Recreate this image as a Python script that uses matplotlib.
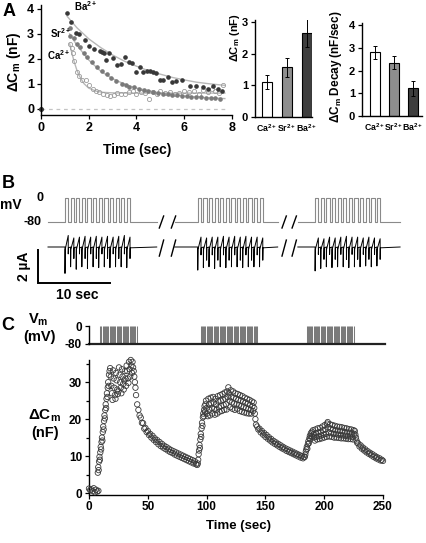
import numpy as np
import matplotlib
matplotlib.use("Agg")
import matplotlib.pyplot as plt

plt.rcParams['font.family'] = ['Liberation Sans', 'DejaVu Sans']
plt.rcParams['font.weight'] = 'bold'
plt.rcParams['mathtext.fontset'] = 'custom'
plt.rcParams['mathtext.rm'] = 'Liberation Sans:bold'
plt.rcParams['mathtext.it'] = 'Liberation Sans:bold'
plt.rcParams['mathtext.bf'] = 'Liberation Sans:bold'

# ---------------- Panel A data ----------------
ba_t = [1.1, 1.26, 1.45, 1.6, 1.86, 2.0, 2.2, 2.47, 2.54, 2.65, 2.72, 2.86, 3.0, 3.17, 3.33, 3.51,
        3.68, 3.82, 4.0, 4.14, 4.28, 4.42, 4.56, 4.7, 4.81, 4.98, 5.12, 5.3, 5.47, 5.65, 5.89,
        6.23, 6.51, 6.8, 7.0, 7.2, 7.4, 7.6]
ba_v = [3.85, 3.48, 3.05, 3.0, 2.75, 2.5, 2.38, 2.3, 2.27, 2.22, 1.97, 2.24, 2.05, 1.76, 1.8, 2.07,
        1.85, 1.83, 1.45, 1.67, 1.47, 1.51, 1.51, 1.47, 1.43, 1.16, 1.13, 1.26, 1.06, 1.09, 1.13,
        0.89, 0.89, 0.85, 0.78, 0.92, 0.8, 0.72]
sr_t = [1.2, 1.23, 1.39, 1.52, 1.63, 1.8, 1.94, 2.13, 2.33, 2.54, 2.75, 2.95, 3.16, 3.38, 3.55, 3.7,
        3.9, 4.1, 4.3, 4.5, 4.7, 4.9, 5.1, 5.3, 5.5, 5.7, 5.9, 6.1, 6.3, 6.5, 6.7, 6.9, 7.1, 7.3, 7.5]
sr_v = [2.92, 3.22, 2.82, 2.6, 2.46, 2.25, 2.08, 1.85, 1.65, 1.5, 1.38, 1.22, 1.12, 1.0, 0.95, 0.88,
        0.85, 0.78, 0.74, 0.72, 0.66, 0.62, 0.6, 0.58, 0.55, 0.55, 0.5, 0.52, 0.48, 0.46, 0.45, 0.44,
        0.42, 0.42, 0.4]
ca_t = [1.22, 1.28, 1.33, 1.4, 1.49, 1.6, 1.7, 1.88, 2.0, 2.16, 2.3, 2.45, 2.6, 2.75, 2.9, 3.05,
        3.2, 3.35, 3.5, 3.7, 3.85, 4.0, 4.2, 4.35, 4.54, 4.7, 4.85, 5.0, 5.2, 5.4, 5.6, 5.8, 6.0,
        6.2, 6.4, 6.6, 6.8, 7.0, 7.15, 7.3, 7.45, 7.63]
ca_v = [2.6, 2.45, 2.25, 1.9, 1.48, 1.3, 1.14, 1.14, 0.95, 0.77, 0.7, 0.65, 0.6, 0.55, 0.5, 0.55,
        0.62, 0.58, 0.6, 0.65, 0.7, 0.6, 0.65, 0.62, 0.37, 0.65, 0.6, 0.7, 0.62, 0.66, 0.6, 0.62,
        0.7, 0.65, 0.72, 0.6, 0.75, 0.68, 0.8, 0.72, 0.62, 0.93]
zero_t = [0.0]
zero_v = [0.0]
ba_fit_t = [1.1, 1.5, 2, 2.5, 3, 3.5, 4, 4.5, 5, 5.5, 6, 6.5, 7, 7.7]
ba_fit_v = [3.7, 3.25, 2.8, 2.45, 2.15, 1.9, 1.7, 1.52, 1.38, 1.25, 1.15, 1.06, 1.0, 0.93]
sr_fit_t = [1.2, 1.5, 2, 2.5, 3, 3.5, 4, 5, 6, 7, 7.7]
sr_fit_v = [3.0, 2.55, 1.95, 1.5, 1.2, 0.98, 0.82, 0.62, 0.5, 0.43, 0.4]
ca_fit_t = [1.2, 1.3, 1.4, 1.5, 1.6, 1.8, 2.0, 2.3, 2.6, 3, 4, 5, 6, 7, 7.7]
ca_fit_v = [2.6, 2.2, 1.85, 1.55, 1.32, 1.0, 0.82, 0.7, 0.65, 0.63, 0.62, 0.62, 0.62, 0.62, 0.62]

ions = ['Ca$^{2+}$', 'Sr$^{2+}$', 'Ba$^{2+}$']
bar_colors = ['white', '#8e8e8e', '#3e3e3e']
dcm_mean = [1.1, 1.57, 2.65]
dcm_err = [0.23, 0.3, 0.45]
decay_mean = [2.8, 2.35, 1.22]
decay_err = [0.3, 0.28, 0.32]

# ---------------- Panel B data ----------------
b_seg_start = [0.0, 17.6, 34.7]
b_seg_end = [15.1, 31.9, 48.9]
b_train_start = [2.36, 20.8, 37.1]
b_n_pulses = 12
b_period = 0.78
b_high = 0.45
b_on_depth = [[-1.6, -1.2, -1.35, -1.2, -1.3, -1.2, -1.25, -1.2, -1.25, -1.2, -1.2, -1.25],
              [-1.4, -1.25, -1.2, -1.3, -1.2, -1.25, -1.2, -1.2, -1.25, -1.2, -1.2, -1.2],
              [-1.45, -1.3, -1.2, -1.25, -1.2, -1.2, -1.25, -1.2, -1.2, -1.15, -1.2, -1.15]]
b_peak = [[0.7, 0.55, 0.6, 0.65, 0.6, 0.65, 0.6, 0.65, 0.6, 0.65, 0.7, 0.6],
          [0.6, 0.55, 0.6, 0.6, 0.65, 0.6, 0.65, 0.6, 0.65, 0.6, 0.6, 0.55],
          [0.55, 0.5, 0.6, 0.55, 0.6, 0.65, 0.6, 0.6, 0.55, 0.6, 0.55, 0.5]]
b_off_depth = [-0.7, -0.8, -0.75]
b_break_t = [15.76, 17.43, 32.8, 34.2]

# ---------------- Panel C data ----------------
c_seg_t0 = [0, 7.5, 17.5, 41, 92.5, 99.5, 143, 183.5, 190.5, 229]
c_seg_t1 = [8, 17, 40, 92, 99, 142, 183, 190, 228, 250]
c_seg_vals = [
    [1.2, 0.8, 1.0, 0.5, 1.3, 0.2, 0.9, 0.4, 0.6],
    [5.5, 7.0, 6.2, 8.5, 9.8, 9.0, 11.0, 12.5, 11.8, 13.8, 15.0, 14.2, 16.5, 18.0, 17.2, 19.5,
     21.0, 20.2, 22.5, 24.0, 23.0, 25.5, 27.0, 26.0, 28.5, 30.0, 29.0, 32.0],
    [33.0, 33.8, 31.5, 29.0, 27.0, 25.2, 33.2, 31.0, 28.5, 26.5, 25.5, 32.5, 30.5, 28.0, 26.8, 27.5,
     34.0, 32.0, 30.0, 28.5, 27.0, 33.5, 31.5, 29.5, 28.0, 30.5, 33.0, 31.0, 29.0, 34.5, 33.0, 31.0,
     29.8, 35.5, 33.5, 31.5, 36.0, 34.5, 32.5, 35.5, 34.0, 33.0, 31.5, 30.0, 28.5, 26.5],
    [24.0, 22.5, 21.0, 20.4, 19.0, 18.9, 17.4, 17.6, 16.5, 16.8, 15.7, 16.0, 15.0, 15.5, 14.4, 14.8,
     13.8, 14.3, 13.2, 13.8, 12.7, 13.3, 12.3, 12.8, 11.9, 12.4, 11.5, 12.0, 11.1, 11.6, 10.8, 11.3,
     10.4, 11.0, 10.1, 10.7, 9.8, 10.4, 9.5, 10.1, 9.2, 9.8, 8.9, 9.5, 8.6, 9.2, 8.3, 8.9, 8.0, 8.6,
     7.8, 7.6],
    [8.0, 9.0, 10.5, 11.5, 13.0, 12.2, 14.5, 16.0, 15.2, 17.5, 19.0, 18.2, 20.5, 21.5, 20.8, 22.5,
     23.5, 22.0, 24.0],
    [25.0, 23.0, 21.5, 20.8, 25.5, 24.0, 22.5, 21.0, 25.8, 24.2, 23.0, 21.5, 26.0, 24.5, 22.8, 21.2,
     25.5, 24.0, 22.5, 21.5, 26.2, 24.8, 23.2, 22.0, 26.5, 25.0, 23.5, 22.2, 26.8, 25.2, 23.8, 22.5,
     27.2, 25.5, 24.0, 22.6, 27.5, 26.0, 28.6, 27.0, 25.0, 23.2, 27.8, 26.0, 24.5, 22.8, 27.5, 25.8,
     24.2, 22.5, 27.0, 25.5, 24.0, 22.8, 26.8, 25.2, 23.8, 22.2, 26.5, 25.0, 23.5, 22.0, 26.2, 24.8,
     23.2, 21.8, 25.8, 24.5, 23.0, 21.6, 25.5, 24.2, 22.8, 21.5, 25.2, 23.8, 22.5, 21.5, 24.8, 23.5,
     22.2, 24.5, 23.0, 21.5, 20.0, 18.5],
    [18.0, 17.2, 17.4, 16.4, 16.8, 15.8, 16.2, 15.2, 15.7, 14.7, 15.1, 14.2, 14.6, 13.7, 14.1, 13.3,
     13.7, 12.9, 13.3, 12.5, 12.9, 12.1, 12.5, 11.8, 12.1, 11.4, 11.8, 11.1, 11.5, 10.8, 11.2, 10.5,
     10.9, 10.2, 10.6, 9.9, 10.3, 9.6, 10.0, 9.4, 9.7],
    [9.8, 10.4, 11.2, 11.8, 12.5, 12.0, 13.2, 14.0, 13.5, 14.8, 15.5, 14.6, 16.2, 15.4, 16.6, 15.2],
    [17.0, 16.0, 15.0, 14.2, 17.2, 16.2, 15.2, 14.5, 17.5, 16.4, 15.4, 14.6, 17.6, 16.6, 15.6, 14.8,
     18.0, 17.0, 15.8, 15.0, 18.4, 17.2, 16.0, 15.2, 18.8, 19.2, 17.8, 16.4, 15.3, 18.6, 17.4, 16.2,
     15.2, 18.4, 17.2, 16.0, 15.0, 18.2, 17.0, 16.0, 15.0, 18.0, 16.9, 15.8, 14.9, 17.9, 16.8, 15.7,
     14.8, 17.8, 16.7, 15.6, 14.8, 17.6, 16.5, 15.5, 14.7, 17.5, 16.4, 15.4, 14.6, 17.3, 16.3, 15.3,
     14.6, 17.2, 16.2, 15.2, 14.5, 17.0, 16.0, 16.8, 15.8, 15.0, 14.2, 13.6],
    [13.4, 12.6, 12.9, 12.0, 12.3, 11.5, 11.8, 11.0, 11.3, 10.6, 10.9, 10.2, 10.5, 9.8, 10.1, 9.4,
     9.7, 9.1, 9.4, 8.8, 9.0, 8.7],
]
c_burst_start = [9.5, 95.0, 185.0]
c_burst_end = [41.0, 144.0, 226.0]
c_pulse_period = 1.0

# ---------------- Layout helpers ----------------
W, H = 427, 543
fig = plt.figure(figsize=(W / 100, H / 100), dpi=100)


def box(l, t, r, b):
    return [l / W, 1 - b / H, (r - l) / W, (b - t) / H]


def ftext(x, y, s, **kw):
    kw.setdefault('ha', 'center')
    kw.setdefault('va', 'center')
    kw.setdefault('fontweight', 'bold')
    fig.text(x / W, 1 - y / H, s, **kw)


def style(ax, fs=8.5):
    for s in ['top', 'right']:
        ax.spines[s].set_visible(False)
    for s in ['left', 'bottom']:
        ax.spines[s].set_linewidth(1.0)
    ax.tick_params(direction='out', length=3, width=0.9, labelsize=fs, pad=2)
    for lab in ax.get_xticklabels() + ax.get_yticklabels():
        lab.set_fontweight('bold')


# ---------------- Panel A: scatter ----------------
axA = fig.add_axes(box(41, 5, 232, 115))
axA.plot([0, 7.7], [0, 0], ls=(0, (3, 3)), color='#c4c4c4', lw=0.9)
axA.plot(ba_fit_t, ba_fit_v, color='#b8b8b8', lw=1.0)
axA.plot(sr_fit_t, sr_fit_v, color='#b8b8b8', lw=1.0)
axA.plot(ca_fit_t, ca_fit_v, color='#b8b8b8', lw=1.0)
axA.plot(ca_t, ca_v, 'o', mfc='none', mec='#9c9c9c', ms=3.0, mew=0.6, ls='none')
axA.plot(sr_t, sr_v, 'o', color='#7a7a7a', ms=2.3, ls='none')
axA.plot(ba_t, ba_v, 'o', color='#383838', ms=2.3, ls='none')
axA.plot(zero_t, zero_v, 'o', color='#383838', ms=2.6, ls='none', clip_on=False)
axA.set_xlim(0, 8)
axA.set_ylim(-0.26, 4.16)
axA.set_xticks([0, 2, 4, 6, 8])
axA.set_yticks([0, 1, 2, 3, 4])
style(axA, 9)
axA.text(1.85, 4.12, 'Ba$^{2+}$', fontsize=7, fontweight='bold', ha='center', va='center')
axA.text(0.8, 3.03, 'Sr$^{2+}$', fontsize=7, fontweight='bold', ha='center', va='center')
axA.text(0.72, 2.13, 'Ca$^{2+}$', fontsize=7, fontweight='bold', ha='center', va='center')
ftext(137, 150, 'Time (sec)', fontsize=10)
ftext(14, 62, 'ΔC$_\\mathrm{m}$ (nF)', fontsize=10, rotation=90)
ftext(9, 12, 'A', fontsize=13)

# ---------------- Panel A: bars ----------------
axB1 = fig.add_axes(box(255, 20, 312, 117))
x = np.arange(3)
axB1.bar(x, dcm_mean, width=0.49, color=bar_colors, edgecolor='black', linewidth=0.8)
axB1.errorbar(x, dcm_mean, yerr=dcm_err, fmt='none', ecolor='black', elinewidth=0.7, capsize=1.5,
              capthick=0.7)
axB1.set_xlim(-0.6, 2.25)
axB1.set_ylim(0, 3.06)
axB1.set_yticks([0, 1, 2, 3])
axB1.set_xticks(x)
axB1.set_xticklabels(ions)
style(axB1, 8)
axB1.tick_params(axis='x', length=0, labelsize=6.3, pad=4)
ftext(235, 38, 'ΔC$_\\mathrm{m}$ (nF)', fontsize=8, rotation=90)

axB2 = fig.add_axes(box(362, 23, 422, 116))
axB2.bar(x, decay_mean, width=0.53, color=bar_colors, edgecolor='black', linewidth=0.8)
axB2.errorbar(x, decay_mean, yerr=decay_err, fmt='none', ecolor='black', elinewidth=0.7,
              capsize=1.5, capthick=0.7)
axB2.set_xlim(-0.68, 2.47)
axB2.set_ylim(0, 4.09)
axB2.set_yticks([0, 1, 2, 3, 4])
axB2.set_xticks(x)
axB2.set_xticklabels(ions)
style(axB2, 8)
axB2.tick_params(axis='x', length=0, labelsize=6.3, pad=4)
ftext(336, 67, 'ΔC$_\\mathrm{m}$ Decay (nF/sec)', fontsize=8.5, rotation=90)

# ---------------- Panel B ----------------
xl = (-10 / 7.2, (410 - 48) / 7.2)
axV = fig.add_axes(box(38, 188, 410, 232))
axI = fig.add_axes(box(38, 230, 410, 292))
for ax in (axV, axI):
    ax.set_xlim(*xl)
    ax.axis('off')
axV.set_ylim(-113.3, 33.3)
axI.set_ylim(-2.727, 1.03)

for s in range(3):
    vt, vv = [b_seg_start[s]], [-80]
    it, iv = [b_seg_start[s]], [0.0]
    for k in range(b_n_pulses):
        on = b_train_start[s] + k * b_period
        off = on + b_high
        vt += [on, on, off, off]
        vv += [-80, 0, 0, -80]
        it += [on, on, on + 0.03, off, off, off + 0.03]
        iv += [0.0, b_on_depth[s][k], -0.15, b_peak[s][k], b_off_depth[s] * (1 if k % 2 else 0.6),
               -0.05]
    vt += [b_seg_end[s]]
    vv += [-80]
    it += [b_seg_end[s]]
    iv += [0.0]
    axV.plot(vt, vv, color='#8a8a8a', lw=0.8)
    axI.plot(it, iv, color='black', lw=0.7)

for bt in b_break_t:
    axV.plot([bt - 0.3, bt + 0.3], [-100, -60], color='black', lw=1.0)
    axI.plot([bt - 0.3, bt + 0.3], [-0.55, 0.42], color='black', lw=1.0)

# scale bar: 2 uA, 10 sec
axI.plot([xl[0], xl[0], xl[0] + 10], [-0.18, -2.18, -2.18], color='black', lw=1.4,
         clip_on=False, solid_joinstyle='miter')
ftext(8, 184, 'B', fontsize=13)
ftext(40, 198, '0', fontsize=9)
ftext(11, 205, 'mV', fontsize=10)
ftext(33, 222, '-80', fontsize=9)
ftext(24, 266, '2 µA', fontsize=10, rotation=90)
ftext(77, 295, '10 sec', fontsize=10)

# ---------------- Panel C ----------------
axVm = fig.add_axes(box(89, 324, 383, 346))
axVm.set_xlim(0, 250)
axVm.set_ylim(-88.9, 8.9)
pulse_t = []
for b0, b1 in zip(c_burst_start, c_burst_end):
    pulse_t += list(np.arange(b0, b1, c_pulse_period))
axVm.vlines(pulse_t, -80, 0, color='#7a7a7a', lw=0.75)
axVm.plot([0, 251.5], [-80, -80], color='#222222', lw=1.6, clip_on=False)
for s in ['top', 'right', 'bottom']:
    axVm.spines[s].set_visible(False)
axVm.spines['left'].set_bounds(-80, 0)
axVm.spines['left'].set_linewidth(1.0)
axVm.set_xticks([])
axVm.set_yticks([-80, 0])
axVm.set_yticklabels(['-80', '0'])
axVm.tick_params(direction='out', length=3, width=0.9, labelsize=8.5, pad=2)
for lab in axVm.get_yticklabels():
    lab.set_fontweight('bold')

axC = fig.add_axes(box(89, 360, 383, 494.5))
ct = np.concatenate([np.linspace(a, b, len(v)) for a, b, v in zip(c_seg_t0, c_seg_t1, c_seg_vals)])
cv = np.concatenate([np.array(v, float) for v in c_seg_vals])
axC.scatter(ct, cv, s=15, facecolors='none', edgecolors='#3a3a3a', linewidths=0.6, clip_on=False,
            zorder=3)
axC.set_xlim(0, 250)
axC.set_ylim(-0.4, 36)
axC.set_xticks([0, 50, 100, 150, 200, 250])
axC.set_yticks([0, 10, 20, 30])
axC.set_yticks([5, 15, 25, 35], minor=True)
style(axC, 8.5)
axC.tick_params(which='minor', direction='out', length=2.5, width=0.9)
ftext(8, 325, 'C', fontsize=13)
ftext(38, 320, 'V$_\\mathrm{m}$', fontsize=10.5)
ftext(40, 337, '(mV)', fontsize=10.5)
ftext(44, 416, 'ΔC$_\\mathrm{m}$', fontsize=11)
ftext(45, 433, '(nF)', fontsize=10.5)
ftext(239, 526, 'Time (sec)', fontsize=9.5)

fig.savefig('out.png', dpi=100)
